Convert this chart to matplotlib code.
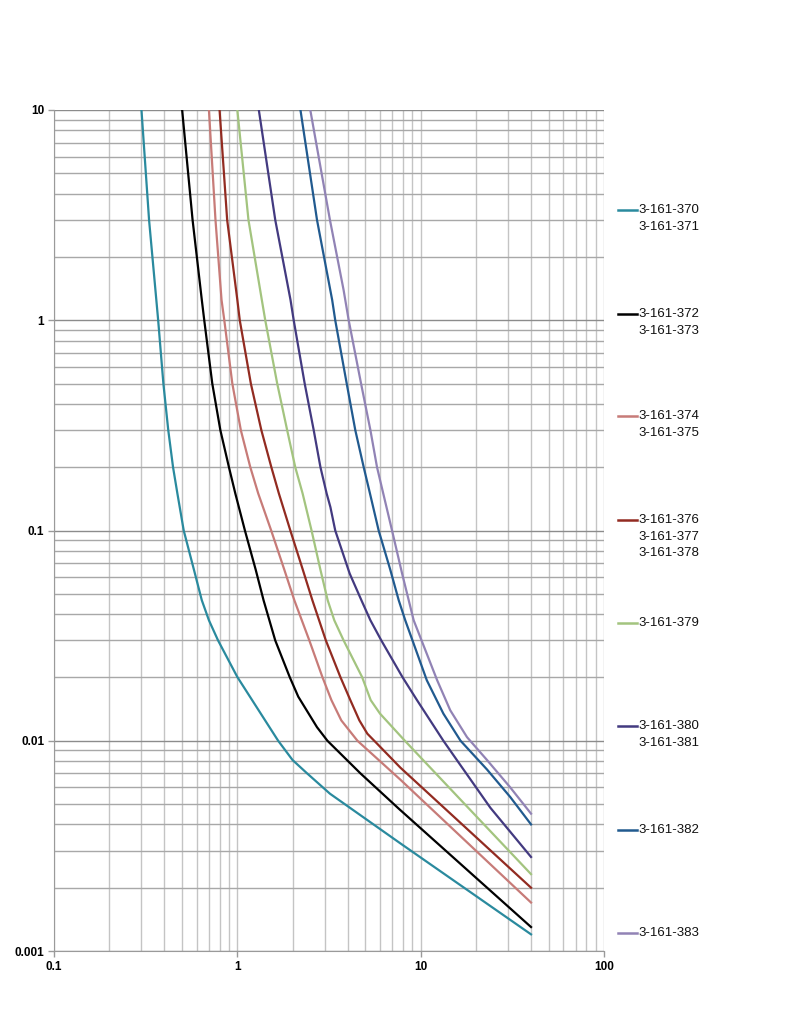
import matplotlib
matplotlib.use("Agg")
import matplotlib.pyplot as plt
from matplotlib.lines import Line2D
from matplotlib.ticker import LogLocator, NullFormatter

plt.rcParams['font.family'] = ['Liberation Sans', 'DejaVu Sans']

# Curves (x, y pairs on log-log axes)
x_370 = [0.30, 0.33, 0.37, 0.395, 0.42, 0.446, 0.471, 0.51, 0.58, 0.64, 0.70, 0.785, 1.0, 1.67, 2.0, 2.4, 3.2, 7.75, 40]
y_370 = [10, 3, 1, 0.5, 0.3, 0.2, 0.15, 0.1, 0.065, 0.0466, 0.0374, 0.030, 0.0201, 0.01, 0.0081, 0.0070, 0.0056, 0.00325, 0.0012]

x_372 = [0.50, 0.57, 0.64, 0.66, 0.73, 0.808, 0.90, 0.975, 1.10, 1.26, 1.39, 1.61, 1.93, 2.15, 2.72, 3.1, 4.69, 7.6, 40]
y_372 = [10, 3, 1.25, 1, 0.5, 0.3, 0.2, 0.15, 0.1, 0.065, 0.0466, 0.030, 0.0201, 0.0162, 0.0116, 0.01, 0.0070, 0.00475, 0.0013]

x_374 = [0.70, 0.76, 0.82, 0.849, 0.939, 1.045, 1.177, 1.30, 1.53, 1.805, 2.046, 2.47, 2.91, 3.26, 3.69, 4.52, 7.75, 40]
y_374 = [10, 3, 1.25, 1, 0.5, 0.3, 0.2, 0.15, 0.1, 0.065, 0.0466, 0.030, 0.0201, 0.0156, 0.0125, 0.01, 0.00653, 0.0017]

x_376 = [0.80, 0.88, 1.0, 1.031, 1.185, 1.352, 1.533, 1.685, 1.946, 2.277, 2.566, 3.04, 3.647, 4.135, 4.63, 5.12, 5.775, 7.75, 40]
y_376 = [10, 3, 1.25, 1, 0.5, 0.3, 0.2, 0.15, 0.1, 0.065, 0.0466, 0.030, 0.0201, 0.0156, 0.0125, 0.0108, 0.0097, 0.00745, 0.0020]

x_379 = [1.0, 1.15, 1.36, 1.42, 1.65, 1.87, 2.07, 2.27, 2.54, 2.84, 3.11, 3.38, 3.80, 4.79, 5.34, 6.0, 8.2, 18.0, 40]
y_379 = [10, 3, 1.25, 1, 0.5, 0.3, 0.2, 0.15, 0.1, 0.065, 0.0466, 0.0374, 0.030, 0.0201, 0.0156, 0.01346, 0.01, 0.00484, 0.00232]

x_380 = [1.31, 1.61, 1.95, 2.03, 2.33, 2.61, 2.84, 3.07, 3.22, 3.42, 4.10, 4.75, 5.32, 6.10, 7.95, 9.55, 13.3, 16.4, 24.0, 40]
y_380 = [10, 3, 1.25, 1, 0.5, 0.3, 0.2, 0.15, 0.129, 0.1, 0.0624, 0.0466, 0.0374, 0.030, 0.0201, 0.0156, 0.01, 0.0077, 0.0048, 0.0028]

x_382 = [2.21, 2.72, 3.29, 3.42, 3.95, 4.40, 4.89, 5.29, 5.90, 6.83, 7.59, 8.24, 10.8, 13.3, 16.5, 23.0, 30.8, 40]
y_382 = [10, 3, 1.25, 1, 0.5, 0.3, 0.2, 0.15, 0.1, 0.065, 0.0466, 0.0374, 0.0194, 0.01346, 0.01, 0.0073, 0.0054, 0.0040]

x_383 = [2.50, 3.2, 3.80, 4.05, 4.73, 5.32, 5.78, 6.25, 6.98, 7.92, 9.16, 12.3, 14.5, 17.9, 23.0, 30.8, 40]
y_383 = [10, 3, 1.39, 1, 0.5, 0.3, 0.2, 0.15, 0.1, 0.0624, 0.0374, 0.0194, 0.01396, 0.0104, 0.0081, 0.0060, 0.0045]

series = [
    (x_370, y_370, '#2a8a9e', ['3-161-370', '3-161-371']),
    (x_372, y_372, '#000000', ['3-161-372', '3-161-373']),
    (x_374, y_374, '#c77b78', ['3-161-374', '3-161-375']),
    (x_376, y_376, '#922b21', ['3-161-376', '3-161-377', '3-161-378']),
    (x_379, y_379, '#a3c47f', ['3-161-379']),
    (x_380, y_380, '#433a80', ['3-161-380', '3-161-381']),
    (x_382, y_382, '#215a8f', ['3-161-382']),
    (x_383, y_383, '#9183b5', ['3-161-383']),
]

x_ticks = [0.1, 1, 10, 100]
x_tick_labels = ['0.1', '1', '10', '100']
y_ticks = [0.001, 0.01, 0.1, 1, 10]
y_tick_labels = ['0.001', '0.01', '0.1', '1', '10']

fig = plt.figure(figsize=(7.9, 10.35), dpi=100)
ax = fig.add_axes([54/790, 84/1035, 550/790, 841/1035])

for xs, ys, col, names in series:
    ax.plot(xs, ys, color=col, lw=1.6, solid_joinstyle='round', zorder=3)

ax.set_xscale('log')
ax.set_yscale('log')
ax.set_xlim(0.1, 100)
ax.set_ylim(0.001, 10)

ax.xaxis.set_minor_locator(LogLocator(base=10, subs=range(2, 10)))
ax.yaxis.set_minor_locator(LogLocator(base=10, subs=range(2, 10)))
ax.xaxis.set_minor_formatter(NullFormatter())
ax.yaxis.set_minor_formatter(NullFormatter())
ax.set_xticks(x_ticks, x_tick_labels)
ax.set_yticks(y_ticks, y_tick_labels)

ax.grid(True, which='major', axis='y', color='#8c8c8c', lw=1.0)
ax.grid(True, which='minor', axis='y', color='#a8a8a8', lw=1.0)
ax.grid(True, which='both', axis='x', color='#c4c4c4', lw=1.0)

ax.tick_params(which='major', direction='out', length=4, color='#9a9a9a', width=1,
               labelsize=8.5, pad=3)
ax.tick_params(which='minor', length=0)
for lbl in ax.get_xticklabels() + ax.get_yticklabels():
    lbl.set_fontweight('bold')

for side in ['left', 'bottom']:
    ax.spines[side].set_color('#9a9a9a')
for side in ['top', 'right']:
    ax.spines[side].set_visible(False)

# legend drawn at the right edge, each entry on its own row
legend_rows = [210, 314, 416, 520, 623, 726, 830, 933]
for (xs, ys, col, names), row in zip(series, legend_rows):
    yf = 1 - row / 1035
    fig.add_artist(Line2D([618/790, 637/790], [yf, yf], color=col, lw=1.8,
                          transform=fig.transFigure))
    for k, name in enumerate(names):
        fig.text(638/790, 1 - (row + k * 16.5) / 1035, name, fontsize=9.5,
                 va='center', ha='left', color='#111111')

fig.savefig('out.png', dpi=100)
